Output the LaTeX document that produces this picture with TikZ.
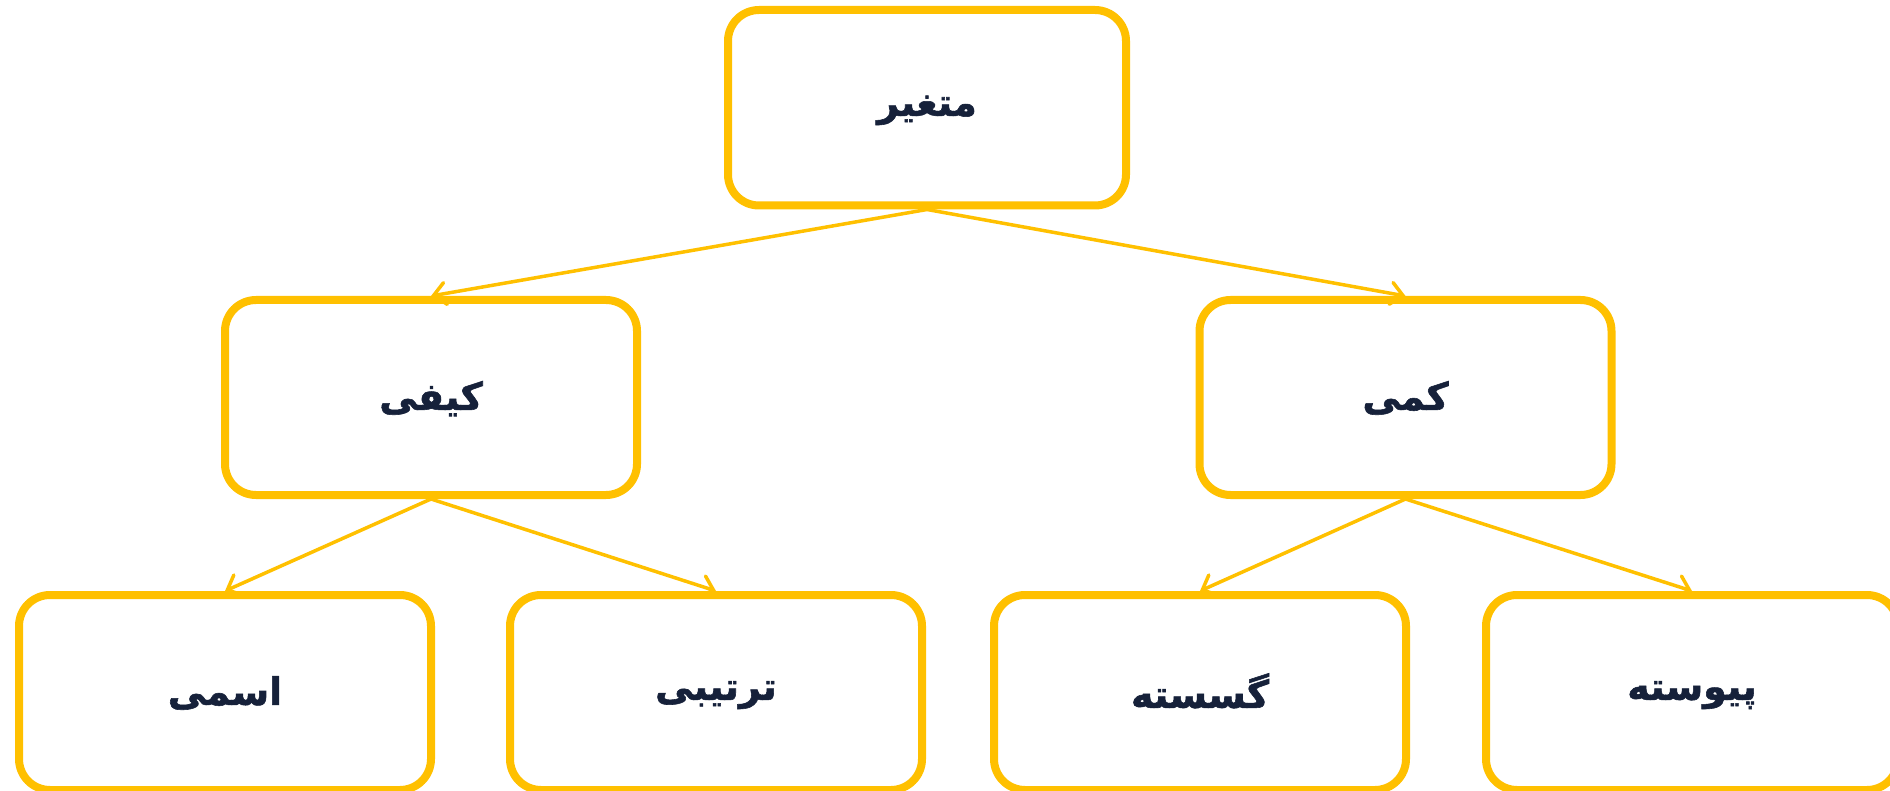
\documentclass[tikz,border=0pt]{standalone}
\usepackage{fontspec}
\usetikzlibrary{arrows.meta}
\TeXXeTstate=1
\newfontfamily\fafont[Script=Arabic, BoldFeatures={FakeBold=1.5}]{DejaVu Sans}
\definecolor{boxamber}{RGB}{255,192,0}
\definecolor{txtnavy}{RGB}{22,33,58}
\newcommand{\fatext}[1]{{\fafont\bfseries\fontsize{38}{44}\selectfont\beginR #1\endR}}
\begin{document}
\begin{tikzpicture}[x=1pt,y=-1pt,
  catbox/.style={draw=boxamber, line width=8pt, rounded corners=31pt, fill=white,
    minimum width=412pt, minimum height=195pt, inner sep=0pt, text=txtnavy,
    font=\fafont\bfseries, text depth=4pt},
  link/.style={draw=boxamber, line width=3.5pt, line cap=round,
    -{Straight Barb[length=12pt,width=22pt,line cap=round]}}]
\useasboundingbox (0,0) rectangle (1890,791);
\clip (0,0) rectangle (1890,791);
\node[catbox, minimum width=398pt, minimum height=195.5pt] (root) at (927,107.75) {\fatext{متغیر}};
\node[catbox] (qual) at (431,397.5) {\fatext{کیفی}};
\node[catbox] (quant) at (1405.5,397.5) {\fatext{کمی}};
\node[catbox] (nom) at (225,692.5) {\fatext{اسمی}};
\node[catbox] (ord) at (716,692.5) {\fatext{ترتیبی}};
\node[catbox] (disc) at (1200,692.5) {\fatext{گسسته}};
\node[catbox] (cont) at (1692,692.5) {\fatext{پیوسته}};
\draw[link] (root.south) -- (qual.north);
\draw[link] (root.south) -- (quant.north);
\draw[link] (qual.south) -- (nom.north);
\draw[link] (qual.south) -- (ord.north);
\draw[link] (quant.south) -- (disc.north);
\draw[link] (quant.south) -- (cont.north);
\end{tikzpicture}
\end{document}
